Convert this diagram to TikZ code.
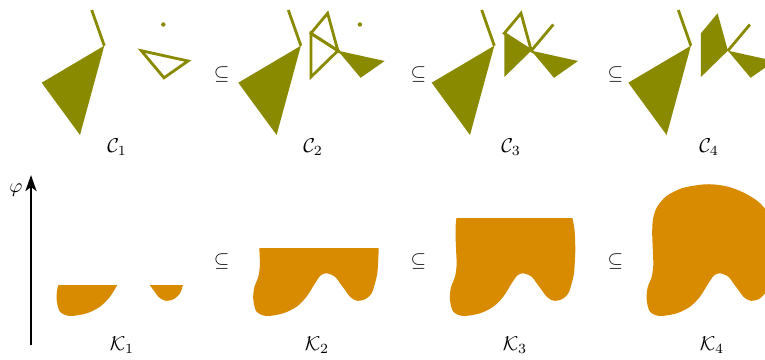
\documentclass[tikz,border=0pt]{standalone}
\usetikzlibrary{arrows.meta}
\definecolor{olivefig}{RGB}{138,138,0}
\definecolor{orangefig}{RGB}{217,139,0}

% corner points of the complexes, in panel coordinates
\newcommand{\cpoints}{%
	\coordinate (L0) at (91.7,10);
	\coordinate (L1) at (104.3,45.7);
	\coordinate (A) at (41.7,82.7);
	\coordinate (B) at (80,135);
	\coordinate (P) at (114.3,33.3);
	\coordinate (Q) at (131,13.3);
	\coordinate (R) at (141.3,50.7);
	\coordinate (S) at (114.3,77);
	\coordinate (T) at (188,61);
	\coordinate (U) at (164,77.8);
	\coordinate (V) at (163.3,24.5);
}
% outline of the sublevel set
\newcommand{\kblob}{plot[smooth cycle, tension=0.5] coordinates {(121.7,184.3) (138.3,186.7) (155,193.3) (168.3,201.7) (177,212) (181,228) (182,248) (181.5,262) (180.7,273.3) (178.4,283.3) (175,293.3) (168.4,299.3) (160,300.7) (153.4,296.7) (148.4,290) (143.4,283.3) (138.4,276.7) (130,273.3) (124,275.5) (118.4,283.3) (110,296.7) (100,306.7) (86.7,313.3) (70,316) (60,311.7) (56.7,300) (57.5,288) (61.7,276.7) (63.3,265) (62.8,250) (62.2,233) (63,219) (67,207) (76.5,196) (91.7,188.3) (108.3,185)}}

\begin{document}
\begin{tikzpicture}[x=0.5pt, y=-0.5pt,
		cline/.style={draw=olivefig, line width=1.4pt},
		cfill/.style={fill=olivefig},
		kfill/.style={fill=orangefig}]
		\clip (0,0) rectangle (765,359);

		% complexes
		\begin{scope}
			\cpoints
			\draw[cline] (L0) -- (L1);
			\fill[cfill] (L1) -- (A) -- (B) -- cycle;
			\fill[cfill] (V) circle[radius=2.2];
			\draw[cline] (R) -- (T) -- (U) -- cycle;
		\end{scope}
		\begin{scope}[shift={(196.6,0)}]
			\cpoints
			\draw[cline] (L0) -- (L1);
			\fill[cfill] (L1) -- (A) -- (B) -- cycle;
			\fill[cfill] (V) circle[radius=2.2];
			\draw[cline] (P) -- (Q) -- (R) -- cycle;
			\draw[cline] (P) -- (R) -- (S) -- cycle;
			\fill[cfill] (R) -- (T) -- (U) -- cycle;
		\end{scope}
		\begin{scope}[shift={(390,0)}]
			\cpoints
			\draw[cline] (L0) -- (L1);
			\fill[cfill] (L1) -- (A) -- (B) -- cycle;
			\draw[cline] (P) -- (Q) -- (R) -- cycle;
			\fill[cfill] (P) -- (R) -- (S) -- cycle;
			\fill[cfill] (R) -- (T) -- (U) -- cycle;
			\draw[cline] (R) -- (V);
		\end{scope}
		\begin{scope}[shift={(586.6,0)}]
			\cpoints
			\draw[cline] (L0) -- (L1);
			\fill[cfill] (L1) -- (A) -- (B) -- cycle;
			\fill[cfill] (P) -- (Q) -- (R) -- (S) -- cycle;
			\fill[cfill] (R) -- (T) -- (U) -- cycle;
			\draw[cline] (R) -- (V);
		\end{scope}

		% sublevel sets
		\begin{scope}
			\clip (40,285) rectangle (140,330);
			\fill[kfill] \kblob;
		\end{scope}
		\begin{scope}[shift={(5,0)}]
			\clip (135,285) rectangle (200,330);
			\fill[kfill] \kblob;
		\end{scope}
		\begin{scope}[shift={(196.6,0)}]
			\clip (40,248.5) rectangle (200,330);
			\fill[kfill] \kblob;
		\end{scope}
		\begin{scope}[shift={(393.3,0)}]
			\clip (40,218.3) rectangle (200,330);
			\fill[kfill] \kblob;
		\end{scope}
		\begin{scope}[shift={(590,0)}]
			\fill[kfill] \kblob;
		\end{scope}

		% labels
		\foreach \i/\cx/\kx in {1/117/122, 2/313/317, 3/511/515, 4/709/712} {
			\node (c\i) at (\cx,147) {$\mathcal{C}_\i$};
			\node (k\i) at (\kx,345) {$\mathcal{K}_\i$};
		}
		\foreach \i/\sx in {2/221.7, 3/418.3, 4/615.5} {
			\node (sc\i) at (\sx,74) {$\subseteq$};
			\node (sk\i) at (\sx,261.5) {$\subseteq$};
		}

		% filtration axis
		\coordinate (phibot) at (31,345);
		\coordinate (phitop) at (31,175);
		\draw[line width=1.3pt, -{Stealth[length=8pt, width=5.5pt, inset=2pt]}] (phibot) -- (phitop);
		\node (phi) at (16,190) {$\varphi$};
	\end{tikzpicture}
\end{document}
